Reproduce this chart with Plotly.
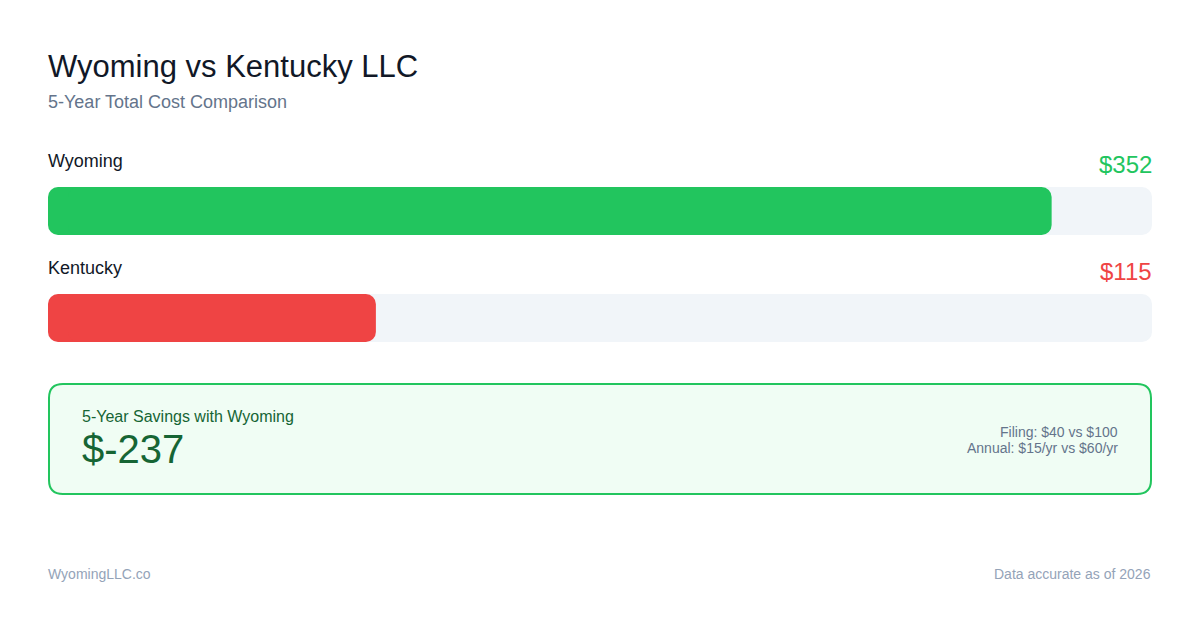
import plotly.graph_objects as go

# chart data
states = ["Wyoming", "Kentucky"]
totals = [352, 115]
bar_colors = ["#22c55e", "#ef4444"]
filing_fees = [40, 100]
annual_fees = [15, 60]
footer_site = "WyomingLLC.co"
footer_note = "Data accurate as of 2026"

savings = totals[1] - totals[0]
scale_max = max(totals) * 1.1

W, H = 1200, 630
OFF = 8  # page offset of the figure
L, R, T, B = 48 - OFF, 48 + OFF, 150 - OFF, 270 + OFF
FONT = "Liberation Sans, Arial, sans-serif"


def px(x):
    return (x - OFF - L) / (W - L - R)


def py(y):
    return (H - B - (y - OFF)) / (H - T - B)


ypos = [1, 0]
bw = 0.4486
cap = 20 / 1104 * scale_max  # split point so both ends get rounded

fig = go.Figure()


def rounded_bar(values, colors, hover):
    n = len(values)
    # left cap, drawn backwards so its rounded tip sits at zero; overlaps the main bar
    fig.add_trace(go.Bar(
        x=[-2 * cap] * n, base=[2 * cap] * n, y=ypos, orientation="h",
        marker=dict(color=colors, cornerradius=10, line=dict(width=0)),
        width=bw, hoverinfo="skip", showlegend=False,
    ))
    fig.add_trace(go.Bar(
        x=[v - cap for v in values], base=[cap] * n, y=ypos, orientation="h",
        marker=dict(color=colors, cornerradius=10, line=dict(width=0)),
        width=bw, customdata=[[s, v] for s, v in zip(states, values)],
        hovertemplate="%{customdata[0]}: $%{customdata[1]}<extra></extra>" if hover else None,
        hoverinfo=None if hover else "skip", showlegend=False,
    ))


rounded_bar([scale_max] * len(states), "#f1f5f9", False)
rounded_bar(totals, bar_colors, True)

annotations = []
for name, val, col, yp in zip(states, totals, bar_colors, ypos):
    annotations.append(dict(x=0, y=yp + 0.467, xref="x", yref="y", text=name, xshift=-2,
                            showarrow=False, xanchor="left", yanchor="middle",
                            font=dict(size=18, color="#111827", family=FONT)))
    annotations.append(dict(x=scale_max, y=yp + 0.43, xref="x", yref="y", text=f"${val}", xshift=2,
                            showarrow=False, xanchor="right", yanchor="middle",
                            font=dict(size=24, color=col, family=FONT)))


def note(text, x, y, size, color, anchor="left"):
    annotations.append(dict(x=px(x), y=py(y), xref="paper", yref="paper", text=text,
                            showarrow=False, xanchor=anchor, yanchor="middle",
                            font=dict(size=size, color=color, family=FONT)))


note("Wyoming vs Kentucky LLC", 46, 66, 31, "#111827")
note("5-Year Total Cost Comparison", 46, 102, 18, "#64748b")
note("5-Year Savings with Wyoming", 80, 416, 16, "#166534")
note(f"${savings}", 80, 449, 40, "#166534")
note(f"Filing: ${filing_fees[0]} vs ${filing_fees[1]}", 1120, 432, 14, "#64748b", "right")
note(f"Annual: ${annual_fees[0]}/yr vs ${annual_fees[1]}/yr", 1120, 448, 14, "#64748b", "right")
note(footer_site, 46, 574, 14, "#94a3b8")
note(footer_note, 1153, 574, 14, "#94a3b8", "right")

# rounded savings box
x0, x1, y0, y1, r = 49, 1151, 384, 494, 14
path = (
    f"M {px(x0 + r)} {py(y0)} L {px(x1 - r)} {py(y0)} "
    f"Q {px(x1)} {py(y0)} {px(x1)} {py(y0 + r)} "
    f"L {px(x1)} {py(y1 - r)} Q {px(x1)} {py(y1)} {px(x1 - r)} {py(y1)} "
    f"L {px(x0 + r)} {py(y1)} Q {px(x0)} {py(y1)} {px(x0)} {py(y1 - r)} "
    f"L {px(x0)} {py(y0 + r)} Q {px(x0)} {py(y0)} {px(x0 + r)} {py(y0)} Z"
)

fig.update_layout(
    width=W, height=H,
    margin=dict(l=L, r=R, t=T, b=B),
    paper_bgcolor="white", plot_bgcolor="white",
    barmode="overlay",
    xaxis=dict(range=[0, scale_max], visible=False, fixedrange=True),
    yaxis=dict(range=[-0.3925, 1.570], visible=False, fixedrange=True),
    annotations=annotations,
    shapes=[dict(type="path", path=path, xref="paper", yref="paper",
                 fillcolor="#f0fdf4", line=dict(color="#22c55e", width=2), layer="below")],
)

fig.write_html("out.html", config={"displayModeBar": False})
